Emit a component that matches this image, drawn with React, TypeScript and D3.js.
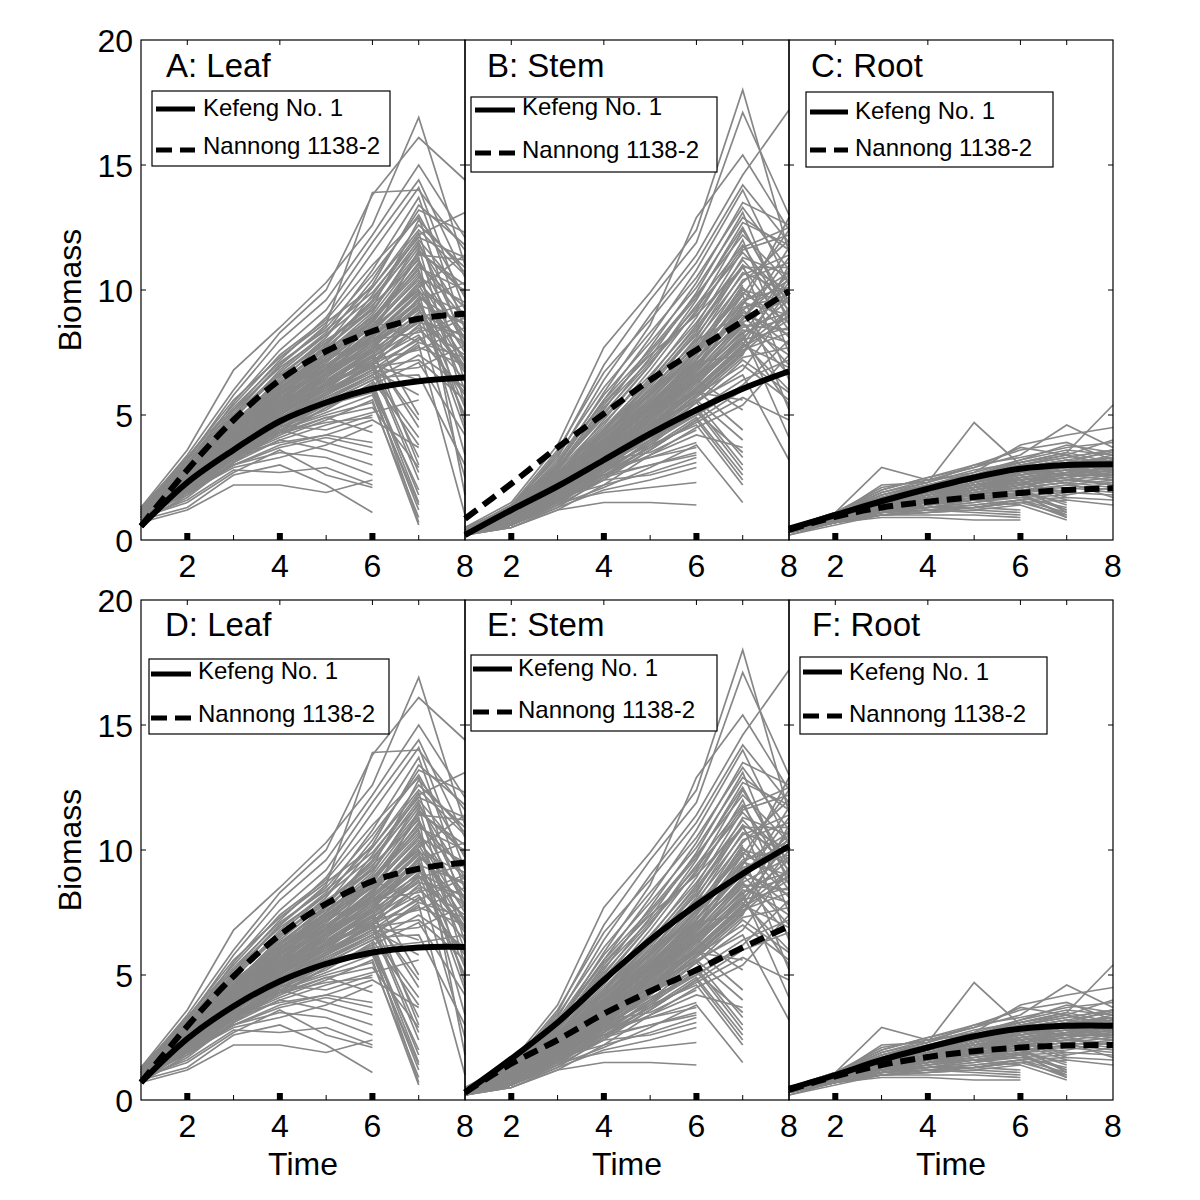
import React from "react";
import * as d3 from "d3";

// ---------- data ----------
const timePoints = [1, 2, 3, 4, 5, 6, 7, 8];
const yTickValues = [0, 5, 10, 15, 20];
const yInnerTicks = [5, 10, 15];
const xTickLabelValues = [2, 4, 6, 8];
const xTopTickValues = [2, 4, 6, 7];
const xBottomMinorTicks = [3, 5, 7];
const xBottomMajorMarks = [2, 4, 6];
const legendLabels = ["Kefeng No. 1", "Nannong 1138-2"];
const panelTitles = ["A: Leaf", "B: Stem", "C: Root", "D: Leaf", "E: Stem", "F: Root"];
const yAxisLabel = "Biomass";
const xAxisLabel = "Time";

// individual trajectories (grey), values at time 1..k
const leafLines: number[][] = [
  [0.8, 1.3, 2.6, 3.0, 2.2, 1.1],
  [0.9, 1.6, 2.8, 2.7, 2.9, 2.2],
  [0.7, 1.2, 2.2, 2.2, 1.9, 2.4],
  [1.0, 1.8, 3.0, 3.5, 3.3, 2.6],
  [0.9, 2.0, 3.2, 4.0, 3.6, 3.0],
  [1.1, 2.3, 3.4, 3.9, 4.2, 3.9],
  [0.8, 1.7, 3.1, 4.4, 3.9, 3.4],
  [1.0, 1.9, 2.9, 3.3, 3.8, 4.6],
  [0.9, 1.5, 2.7, 3.6, 2.6, 2.1],
  [1.2, 2.4, 3.6, 4.6, 4.4, 5.0],
  [1.0, 2.1, 3.3, 4.2, 4.9, 4.3],
  [0.9, 1.9, 3.0, 3.7, 4.1, 3.7],
  [1.1, 2.2, 3.5, 4.3, 4.7, 4.9],
  [0.9, 2.2, 3.3, 4.1, 4.8, 5.6, 0.6],
  [1.0, 2.5, 3.9, 4.9, 5.4, 5.9, 1.2],
  [0.8, 1.9, 3.2, 4.5, 5.2, 6.3, 1.8],
  [1.1, 2.6, 4.1, 5.2, 6.0, 6.9, 2.4],
  [0.9, 2.1, 3.5, 4.3, 4.9, 5.3, 2.9],
  [1.2, 2.8, 4.3, 5.6, 6.2, 7.1, 3.3],
  [0.8, 2.0, 3.0, 3.8, 4.2, 4.8, 3.7],
  [1.0, 2.3, 3.7, 4.7, 5.7, 6.6, 4.1],
  [0.9, 2.4, 3.8, 5.0, 6.3, 7.4, 4.5],
  [1.1, 2.7, 4.4, 5.8, 6.9, 8.2, 5.0],
  [0.7, 1.8, 3.1, 4.0, 4.6, 5.1, 5.6],
  [1.0, 2.2, 3.6, 4.9, 5.9, 7.0, 6.4],
  [1.2, 2.9, 4.6, 6.1, 7.4, 8.8, 7.9],
  [0.9, 2.5, 4.0, 5.4, 6.5, 8.0, 9.3],
  [1.0, 2.1, 3.4, 4.4, 5.0, 5.5, 0.9],
  [0.8, 2.3, 3.6, 4.8, 5.6, 6.0, 2.0],
  [1.1, 2.6, 4.2, 5.3, 6.1, 7.6, 3.0],
  [1.0, 2.0, 3.3, 4.2, 5.3, 6.2, 1.5],
  [0.9, 2.2, 3.6, 4.6, 5.5, 6.4, 3.8],
  [1.0, 2.4, 3.9, 5.1, 6.0, 7.0, 2.7],
  [1.1, 2.6, 4.0, 5.3, 6.4, 7.3, 4.8],
  [0.8, 2.0, 3.3, 4.4, 5.1, 5.8, 1.4],
  [1.0, 2.3, 3.7, 4.9, 5.8, 6.8, 5.8],
  [0.9, 2.1, 3.4, 4.5, 5.4, 6.1, 0.7],
  [1.3, 3.6, 6.8, 8.5, 10.3, 12.6, 16.9, 11.0],
  [1.2, 3.4, 6.0, 8.3, 10.0, 13.8, 16.1, 14.4],
  [1.1, 3.2, 5.8, 8.0, 9.6, 12.2, 15.0, 12.1],
  [1.0, 3.0, 5.5, 7.6, 9.2, 11.9, 14.4, 10.5],
  [1.2, 3.1, 5.2, 7.2, 8.9, 11.5, 14.1, 9.2],
  [0.9, 2.8, 5.0, 7.0, 8.6, 13.9, 14.0, 11.6],
  [1.1, 2.9, 4.8, 6.8, 8.3, 10.8, 13.7, 8.4],
  [1.0, 2.7, 4.6, 6.5, 8.1, 10.4, 13.2, 12.3],
  [1.3, 3.3, 5.4, 7.4, 8.8, 11.0, 12.9, 7.6],
  [1.0, 2.6, 4.4, 6.2, 7.8, 10.1, 12.6, 10.9],
  [0.9, 2.5, 4.3, 6.0, 7.5, 9.8, 12.3, 6.3],
  [1.1, 2.8, 4.7, 6.4, 7.9, 9.5, 12.0, 9.8],
  [1.2, 3.0, 4.9, 6.6, 8.0, 9.2, 11.7, 5.4],
  [1.0, 2.4, 4.1, 5.8, 7.3, 9.0, 11.4, 11.2],
  [0.8, 2.3, 4.0, 5.6, 7.1, 8.7, 11.1, 8.8],
  [1.1, 2.7, 4.5, 6.3, 7.6, 8.9, 10.8, 4.6],
  [1.0, 2.6, 4.2, 5.9, 7.4, 8.5, 10.5, 9.5],
  [0.9, 2.2, 3.9, 5.5, 6.9, 8.3, 10.2, 7.1],
  [1.2, 2.9, 4.8, 6.1, 7.2, 8.1, 9.9, 3.4],
  [1.0, 2.5, 4.0, 5.4, 6.7, 7.9, 9.6, 10.3],
  [0.8, 2.1, 3.7, 5.2, 6.5, 7.7, 9.4, 6.8],
  [1.1, 2.6, 4.3, 5.7, 6.8, 7.5, 9.1, 8.1],
  [1.0, 2.4, 3.8, 5.3, 6.4, 7.3, 8.8, 2.5],
  [0.9, 2.3, 3.6, 5.0, 6.2, 7.0, 8.6, 7.4],
  [1.2, 2.8, 4.5, 5.9, 7.0, 8.0, 8.3, 9.0],
  [1.0, 2.2, 3.5, 4.8, 5.9, 6.8, 8.1, 5.9],
  [0.9, 2.0, 3.4, 4.6, 5.7, 6.6, 7.8, 1.0],
  [1.1, 2.5, 3.9, 5.1, 6.1, 7.2, 7.6, 8.5],
  [1.0, 2.1, 3.3, 4.5, 5.5, 6.4, 7.4, 6.1],
  [0.8, 1.9, 3.1, 4.3, 5.3, 6.2, 7.1, 4.2],
  [1.1, 2.4, 3.7, 4.9, 5.8, 6.7, 6.9, 7.8],
  [1.0, 2.3, 3.6, 4.7, 5.6, 6.5, 6.6, 3.0],
  [0.9, 2.0, 3.2, 4.4, 5.4, 6.1, 6.3, 6.6],
  [1.2, 2.6, 4.0, 5.2, 6.3, 7.1, 9.0, 5.0],
  [1.0, 2.4, 3.9, 5.4, 6.8, 8.4, 10.0, 7.2],
  [0.9, 2.3, 3.8, 5.3, 6.6, 8.2, 11.6, 9.9],
  [1.1, 2.7, 4.4, 6.0, 7.7, 9.3, 12.8, 10.7],
  [1.0, 2.5, 4.2, 5.8, 7.2, 8.8, 11.3, 1.8],
  [1.3, 3.1, 5.0, 6.7, 8.2, 10.2, 13.4, 11.8],
  [0.9, 2.2, 3.6, 5.0, 6.3, 7.6, 9.7, 8.6],
  [1.0, 2.6, 4.3, 5.6, 6.9, 8.6, 10.6, 6.0],
  [1.1, 2.9, 4.6, 6.2, 7.8, 9.6, 12.2, 13.1],
  [1.2, 3.0, 5.1, 7.0, 8.5, 10.6, 13.0, 9.7],
  [0.8, 2.1, 3.5, 4.9, 6.0, 7.4, 8.9, 7.9],
  [1.0, 2.3, 3.7, 5.1, 6.2, 7.7, 9.3, 4.9],
  [1.1, 2.4, 3.8, 5.0, 6.0, 6.9, 7.2, 5.6],
  [0.9, 2.2, 3.4, 4.7, 5.8, 7.0, 8.0, 8.9],
  [1.0, 2.7, 4.5, 6.1, 7.5, 9.1, 11.9, 8.0],
  [1.0, 2.4, 4.0, 5.5, 6.9, 8.1, 9.8, 7.7],
  [0.9, 2.3, 3.8, 5.2, 6.5, 7.8, 9.0, 6.9],
  [1.1, 2.6, 4.2, 5.7, 7.0, 8.3, 10.3, 8.3],
  [1.0, 2.2, 3.6, 5.0, 6.1, 7.3, 8.5, 6.4],
  [1.2, 2.8, 4.6, 6.2, 7.5, 8.9, 11.0, 9.3],
  [0.9, 2.1, 3.5, 4.8, 5.9, 7.1, 8.4, 7.0],
  [1.0, 2.5, 4.1, 5.6, 6.8, 8.0, 9.5, 5.3],
  [1.1, 2.7, 4.4, 5.9, 7.3, 8.7, 10.9, 10.0],
  [0.8, 2.0, 3.3, 4.6, 5.6, 6.6, 7.9, 7.3],
  [1.0, 2.3, 3.7, 5.1, 6.3, 7.5, 8.7, 8.2],
  [1.1, 2.5, 4.0, 5.4, 6.7, 8.2, 9.9, 9.1],
  [0.9, 2.4, 3.9, 5.3, 6.6, 7.9, 9.2, 6.7],
  [1.0, 2.6, 4.3, 5.8, 7.1, 8.6, 10.4, 7.5],
  [1.2, 2.9, 4.7, 6.3, 7.7, 9.2, 11.5, 10.2],
  [0.9, 2.2, 3.7, 5.0, 6.2, 7.2, 8.2, 5.8],
  [1.0, 2.4, 3.9, 5.2, 6.4, 7.6, 8.9, 9.4],
  [1.1, 2.6, 4.1, 5.5, 6.6, 7.8, 9.4, 8.7],
  [1.0, 2.3, 3.8, 5.3, 6.7, 8.1, 9.6, 4.4],
  [0.9, 2.5, 4.2, 5.6, 6.9, 8.4, 10.1, 11.4],
  [1.1, 2.8, 4.5, 6.0, 7.4, 8.8, 10.7, 8.0],
  [1.0, 2.1, 3.4, 4.7, 5.8, 6.8, 7.7, 7.0],
  [1.2, 2.7, 4.3, 5.8, 7.2, 8.5, 10.0, 6.9],
  [1.2, 3.3, 5.6, 7.3, 8.7, 10.1, 12.4, 10.6],
  [1.1, 3.1, 5.2, 6.9, 8.2, 9.7, 11.8, 8.9],
  [1.2, 3.2, 5.3, 7.1, 8.4, 9.9, 12.1, 11.3],
  [1.1, 2.9, 4.9, 6.6, 7.9, 9.4, 11.2, 7.8],
];

const stemLines: number[][] = [
  [0.2, 0.5, 1.2, 1.5, 1.5, 1.4],
  [0.3, 0.7, 1.5, 1.9, 2.1, 2.3],
  [0.2, 0.6, 1.6, 2.4, 2.6, 3.1],
  [0.3, 0.8, 1.9, 2.6, 3.0, 3.5],
  [0.4, 0.9, 2.1, 2.9, 3.3, 3.9],
  [0.2, 0.7, 1.7, 2.2, 2.7, 3.3],
  [0.3, 1.0, 2.3, 3.2, 3.5, 4.4],
  [0.3, 0.6, 1.3, 2.0, 2.4, 2.9],
  [0.3, 0.8, 1.8, 2.8, 3.3, 3.7],
  [0.2, 0.7, 1.6, 2.5, 3.0, 3.4],
  [0.2, 0.6, 1.4, 2.1, 2.9, 3.8, 1.5],
  [0.3, 0.8, 1.8, 2.9, 3.8, 4.6, 2.2],
  [0.3, 0.9, 2.0, 3.2, 4.3, 5.2, 2.8],
  [0.4, 1.0, 2.2, 3.5, 4.7, 5.5, 3.3],
  [0.2, 0.7, 1.6, 2.6, 3.4, 4.2, 3.7],
  [0.3, 0.9, 2.1, 3.4, 4.9, 6.0, 4.4],
  [0.4, 1.1, 2.5, 3.9, 5.2, 6.4, 5.2],
  [0.3, 0.8, 1.9, 3.0, 4.1, 5.0, 6.1],
  [0.3, 1.0, 2.4, 3.8, 5.4, 7.1, 7.4],
  [0.4, 1.2, 2.7, 4.4, 6.0, 8.0, 9.0],
  [0.2, 0.6, 1.5, 2.5, 3.6, 4.8, 2.4],
  [0.3, 0.9, 2.2, 3.6, 5.0, 6.6, 8.3],
  [0.4, 1.1, 2.6, 4.2, 5.8, 7.5, 10.2],
  [0.3, 0.8, 1.7, 2.8, 3.9, 5.3, 3.0],
  [0.3, 0.8, 1.9, 3.1, 4.3, 5.6, 4.0],
  [0.2, 0.7, 1.6, 2.7, 3.7, 4.9, 2.6],
  [0.3, 0.9, 2.0, 3.3, 4.6, 5.9, 5.6],
  [0.3, 0.8, 1.8, 3.0, 4.0, 5.1, 3.5],
  [0.5, 1.5, 3.8, 7.7, 9.9, 12.4, 18.0, 11.5],
  [0.4, 1.3, 3.5, 7.0, 9.6, 11.9, 17.1, 13.0],
  [0.4, 1.4, 3.3, 6.4, 9.0, 11.4, 14.6, 17.2],
  [0.5, 1.2, 3.0, 5.9, 8.6, 12.9, 15.4, 12.4],
  [0.4, 1.3, 3.1, 5.6, 8.1, 10.8, 14.0, 10.2],
  [0.3, 1.1, 2.8, 5.2, 7.7, 10.3, 13.5, 12.6],
  [0.4, 1.2, 2.9, 5.0, 7.3, 9.9, 13.1, 8.6],
  [0.3, 1.0, 2.6, 4.8, 7.0, 9.6, 12.7, 11.8],
  [0.4, 1.1, 2.7, 4.6, 6.8, 9.2, 12.4, 9.4],
  [0.3, 0.9, 2.4, 4.4, 6.5, 8.9, 12.0, 7.5],
  [0.3, 1.0, 2.5, 4.3, 6.3, 8.6, 11.6, 12.2],
  [0.4, 1.1, 2.6, 4.2, 6.1, 8.3, 11.3, 10.6],
  [0.2, 0.8, 2.1, 3.9, 5.9, 8.1, 11.0, 6.4],
  [0.3, 0.9, 2.3, 4.1, 5.8, 7.9, 10.7, 9.9],
  [0.3, 1.0, 2.4, 4.0, 5.6, 7.6, 10.4, 11.1],
  [0.2, 0.7, 1.9, 3.6, 5.4, 7.4, 10.1, 8.1],
  [0.3, 0.9, 2.2, 3.8, 5.3, 7.2, 9.8, 5.2],
  [0.3, 0.8, 2.0, 3.5, 5.1, 7.0, 9.5, 9.0],
  [0.2, 0.8, 2.1, 3.7, 5.2, 6.9, 9.2, 10.4],
  [0.3, 0.9, 2.3, 3.9, 5.5, 7.3, 9.0, 7.0],
  [0.3, 0.8, 1.9, 3.4, 4.9, 6.7, 8.8, 11.7],
  [0.2, 0.7, 1.8, 3.3, 4.8, 6.5, 8.6, 8.4],
  [0.3, 0.9, 2.1, 3.6, 5.0, 6.6, 8.3, 4.1],
  [0.2, 0.7, 1.7, 3.1, 4.6, 6.2, 8.1, 9.6],
  [0.3, 0.8, 2.0, 3.4, 4.7, 6.3, 7.9, 6.0],
  [0.2, 0.6, 1.6, 3.0, 4.4, 6.0, 7.7, 8.8],
  [0.3, 0.8, 1.8, 3.2, 4.5, 5.9, 7.5, 10.0],
  [0.2, 0.6, 1.5, 2.8, 4.2, 5.7, 7.3, 7.7],
  [0.3, 0.7, 1.7, 2.9, 4.3, 5.8, 7.0, 5.6],
  [0.2, 0.6, 1.4, 2.7, 4.0, 5.5, 6.8, 9.3],
  [0.3, 0.8, 1.9, 3.3, 4.6, 5.6, 6.6, 3.2],
  [0.2, 0.5, 1.3, 2.5, 3.8, 5.2, 6.4, 7.2],
  [0.3, 0.7, 1.6, 2.7, 3.9, 5.0, 6.2, 8.0],
  [0.2, 0.6, 1.4, 2.4, 3.6, 4.8, 6.0, 6.7],
  [0.3, 0.7, 1.5, 2.6, 3.7, 4.7, 5.7, 4.8],
  [0.2, 0.5, 1.2, 2.2, 3.4, 4.5, 5.4, 7.4],
  [0.3, 0.8, 2.0, 3.5, 5.0, 6.8, 9.4, 12.9],
  [0.4, 1.0, 2.5, 4.3, 6.2, 8.4, 10.9, 10.9],
  [0.3, 0.9, 2.2, 3.8, 5.4, 7.1, 8.7, 9.7],
  [0.2, 0.7, 1.8, 3.2, 4.6, 6.1, 7.8, 6.9],
  [0.4, 1.2, 2.9, 4.9, 7.0, 9.4, 11.8, 8.9],
  [0.3, 1.0, 2.4, 4.2, 6.0, 8.0, 10.3, 12.0],
  [0.3, 0.8, 2.0, 3.4, 4.8, 6.4, 8.2, 10.8],
  [0.2, 0.6, 1.6, 2.9, 4.2, 5.5, 7.2, 5.9],
  [0.3, 0.9, 2.1, 3.7, 5.3, 7.0, 9.1, 8.2],
  [0.4, 1.1, 2.8, 4.7, 6.6, 8.7, 11.2, 9.2],
  [0.2, 0.7, 1.7, 3.0, 4.4, 5.8, 7.4, 11.0],
  [0.3, 0.9, 2.3, 3.9, 5.6, 7.5, 9.6, 10.1],
  [0.3, 0.9, 2.2, 3.8, 5.4, 7.2, 9.3, 9.8],
  [0.3, 0.8, 2.0, 3.5, 5.0, 6.7, 8.5, 9.1],
  [0.2, 0.7, 1.8, 3.3, 4.8, 6.4, 8.0, 8.5],
  [0.3, 0.9, 2.1, 3.6, 5.2, 6.9, 8.9, 10.6],
  [0.3, 1.0, 2.4, 4.0, 5.7, 7.6, 9.9, 8.7],
  [0.2, 0.8, 1.9, 3.4, 4.9, 6.5, 8.4, 7.9],
  [0.3, 0.9, 2.2, 3.7, 5.3, 7.0, 8.8, 11.3],
  [0.4, 1.0, 2.5, 4.2, 5.9, 7.8, 10.0, 9.5],
  [0.2, 0.7, 1.8, 3.2, 4.6, 6.0, 7.6, 8.3],
  [0.3, 0.8, 2.0, 3.5, 5.1, 6.8, 8.6, 7.4],
  [0.3, 0.9, 2.3, 3.9, 5.6, 7.4, 9.5, 10.7],
  [0.2, 0.7, 1.7, 3.1, 4.5, 6.0, 7.7, 9.2],
  [0.3, 1.0, 2.3, 3.9, 5.5, 7.2, 9.2, 7.8],
  [0.4, 1.1, 2.6, 4.4, 6.3, 8.2, 10.6, 11.4],
  [0.2, 0.8, 2.0, 3.5, 5.1, 6.6, 8.3, 8.9],
  [0.3, 0.8, 1.9, 3.3, 4.7, 6.3, 8.0, 10.3],
  [0.3, 0.9, 2.2, 3.7, 5.2, 6.8, 8.7, 6.6],
  [0.2, 0.6, 1.6, 2.9, 4.3, 5.8, 7.5, 9.0],
  [0.3, 1.0, 2.4, 4.1, 5.8, 7.7, 9.8, 12.4],
  [0.3, 0.8, 2.0, 3.4, 4.9, 6.5, 8.1, 5.4],
  [0.2, 0.7, 1.8, 3.1, 4.5, 6.1, 7.8, 10.5],
  [0.4, 1.1, 2.7, 4.5, 6.4, 8.5, 11.0, 10.0],
  [0.4, 1.2, 3.0, 5.6, 7.6, 9.8, 12.2, 10.3],
  [0.4, 1.3, 3.2, 5.8, 7.9, 10.1, 12.9, 11.6],
  [0.4, 1.1, 2.9, 5.3, 7.2, 9.3, 11.5, 9.6],
  [0.5, 1.3, 3.4, 6.1, 8.3, 10.5, 13.3, 10.8],
  [0.4, 1.2, 3.1, 5.5, 7.4, 9.0, 10.9, 8.4],
  [0.3, 1.1, 2.8, 5.1, 7.1, 9.1, 11.7, 12.5],
  [0.4, 1.2, 2.9, 5.4, 7.5, 9.7, 12.5, 9.1],
  [0.4, 1.4, 3.6, 6.7, 8.8, 11.1, 14.2, 11.9],
];

const rootLines: number[][] = [
  [0.3, 0.7, 0.9, 0.9, 0.8, 0.8],
  [0.3, 0.8, 1.0, 1.0, 1.0, 0.9],
  [0.4, 0.8, 1.1, 1.2, 1.1, 1.0],
  [0.3, 0.7, 1.0, 1.1, 1.2, 1.1],
  [0.3, 0.8, 1.2, 1.3, 1.3, 1.2],
  [0.4, 0.9, 1.3, 1.5, 1.6, 1.4],
  [0.3, 0.7, 1.1, 1.2, 1.3, 1.5],
  [0.4, 0.9, 1.4, 1.7, 1.9, 1.8],
  [0.3, 0.7, 1.0, 1.1, 1.2, 1.4, 0.8],
  [0.4, 0.8, 1.2, 1.3, 1.4, 1.6, 0.9],
  [0.3, 0.8, 1.1, 1.2, 1.3, 1.5, 1.0],
  [0.3, 0.7, 1.0, 1.1, 1.3, 1.6, 1.1],
  [0.4, 0.9, 1.3, 1.5, 1.6, 1.8, 1.2],
  [0.3, 0.8, 1.2, 1.4, 1.6, 1.7, 1.3],
  [0.4, 0.9, 1.4, 1.6, 1.8, 2.0, 1.4],
  [0.3, 0.8, 1.3, 1.6, 1.9, 2.2, 1.6],
  [0.4, 1.0, 1.5, 1.9, 2.2, 2.4, 1.8],
  [0.3, 0.9, 1.4, 1.8, 2.1, 2.5, 2.3],
  [0.4, 1.0, 1.6, 2.0, 2.4, 2.8, 2.6],
  [0.3, 0.8, 1.2, 1.5, 1.7, 1.9, 1.5],
  [0.4, 0.9, 1.3, 1.7, 2.0, 2.3, 1.9],
  [0.3, 0.7, 1.1, 1.3, 1.5, 1.8, 1.0],
  [0.3, 0.8, 1.2, 1.5, 1.8, 2.0, 1.2],
  [0.4, 0.9, 1.4, 1.7, 2.0, 2.3, 1.7],
  [0.3, 0.8, 1.3, 1.6, 1.9, 2.1, 1.1],
  [0.3, 0.7, 1.1, 1.4, 1.6, 1.9, 0.9],
  [0.5, 1.1, 2.9, 2.4, 2.6, 3.1, 3.5, 5.4],
  [0.4, 1.0, 2.2, 2.3, 4.7, 3.0, 3.3, 3.6],
  [0.4, 1.1, 2.0, 2.5, 2.9, 3.4, 4.6, 3.7],
  [0.5, 1.1, 2.1, 2.4, 2.7, 3.8, 4.2, 4.5],
  [0.4, 1.0, 1.9, 2.3, 3.0, 3.6, 3.9, 3.2],
  [0.4, 1.0, 1.8, 2.2, 2.6, 3.2, 3.6, 3.4],
  [0.5, 1.1, 2.0, 2.5, 3.0, 3.3, 3.7, 3.9],
  [0.4, 1.0, 1.8, 2.3, 2.8, 3.1, 3.4, 3.0],
  [0.4, 0.9, 1.7, 2.1, 2.5, 2.9, 3.2, 3.5],
  [0.3, 0.9, 1.6, 2.0, 2.4, 2.8, 3.1, 2.8],
  [0.4, 1.0, 1.7, 2.2, 2.6, 3.0, 3.0, 3.3],
  [0.3, 0.9, 1.5, 1.9, 2.3, 2.7, 2.9, 3.1],
  [0.4, 0.9, 1.6, 2.0, 2.4, 2.6, 2.8, 2.6],
  [0.3, 0.8, 1.4, 1.8, 2.2, 2.5, 2.7, 2.9],
  [0.3, 0.9, 1.5, 1.9, 2.2, 2.4, 2.6, 2.4],
  [0.4, 0.9, 1.4, 1.8, 2.1, 2.3, 2.5, 2.7],
  [0.3, 0.8, 1.3, 1.7, 2.0, 2.2, 2.4, 2.2],
  [0.3, 0.8, 1.3, 1.6, 1.9, 2.1, 2.3, 2.5],
  [0.3, 0.8, 1.2, 1.5, 1.8, 2.0, 2.2, 2.0],
  [0.3, 0.7, 1.2, 1.5, 1.7, 1.9, 2.0, 2.3],
  [0.3, 0.7, 1.1, 1.4, 1.6, 1.8, 1.9, 1.8],
  [0.2, 0.7, 1.1, 1.3, 1.5, 1.7, 1.8, 2.1],
  [0.3, 0.7, 1.0, 1.2, 1.4, 1.6, 1.7, 1.6],
  [0.2, 0.6, 1.0, 1.2, 1.3, 1.5, 1.6, 1.4],
  [0.3, 0.8, 1.3, 1.7, 2.1, 2.5, 2.8, 3.0],
  [0.4, 0.9, 1.5, 2.0, 2.5, 2.9, 3.2, 2.7],
  [0.3, 0.9, 1.4, 1.8, 2.3, 2.6, 3.0, 3.2],
  [0.4, 1.0, 1.6, 2.1, 2.5, 3.0, 3.4, 2.9],
  [0.3, 0.8, 1.3, 1.6, 2.0, 2.4, 2.6, 2.4],
  [0.3, 0.8, 1.2, 1.4, 1.7, 2.0, 2.1, 1.9],
  [0.4, 0.9, 1.5, 1.9, 2.3, 2.7, 3.0, 3.4],
  [0.3, 0.8, 1.4, 1.7, 2.1, 2.4, 2.7, 2.5],
  [0.4, 1.0, 1.7, 2.1, 2.6, 3.1, 3.5, 3.1],
  [0.3, 0.7, 1.2, 1.5, 1.9, 2.2, 2.4, 2.6],
  [0.4, 0.9, 1.6, 2.0, 2.4, 2.8, 3.1, 3.6],
  [0.3, 0.8, 1.3, 1.6, 1.8, 2.1, 2.3, 1.7],
  [0.4, 1.0, 1.8, 2.2, 2.7, 3.2, 3.8, 3.5],
  [0.3, 0.9, 1.4, 1.7, 2.0, 2.3, 2.5, 2.8],
  [0.5, 1.1, 1.9, 2.4, 2.9, 3.7, 3.4, 4.0],
  [0.3, 0.7, 1.1, 1.3, 1.6, 1.9, 2.2, 2.4],
  [0.4, 0.9, 1.5, 1.8, 2.2, 2.6, 2.9, 2.6],
  [0.3, 0.8, 1.3, 1.6, 2.0, 2.3, 2.6, 3.0],
  [0.3, 0.8, 1.3, 1.7, 2.1, 2.4, 2.6, 2.8],
  [0.4, 0.9, 1.4, 1.8, 2.2, 2.6, 2.8, 3.0],
  [0.3, 0.8, 1.3, 1.7, 2.0, 2.3, 2.5, 2.7],
  [0.4, 0.9, 1.5, 1.9, 2.3, 2.7, 2.9, 3.1],
  [0.3, 0.8, 1.2, 1.6, 1.9, 2.2, 2.4, 2.3],
  [0.4, 1.0, 1.6, 2.0, 2.4, 2.8, 3.1, 3.3],
  [0.3, 0.8, 1.3, 1.7, 2.1, 2.5, 2.7, 2.5],
  [0.3, 0.9, 1.4, 1.9, 2.3, 2.6, 2.8, 3.2],
  [0.4, 0.9, 1.5, 1.9, 2.2, 2.5, 2.7, 2.9],
  [0.3, 0.8, 1.2, 1.5, 1.8, 2.1, 2.3, 2.1],
  [0.4, 1.0, 1.7, 2.2, 2.6, 3.0, 3.3, 3.6],
  [0.3, 0.8, 1.4, 1.8, 2.2, 2.6, 2.9, 2.7],
  [0.3, 0.9, 1.5, 1.9, 2.4, 2.8, 3.0, 2.9],
  [0.4, 0.9, 1.4, 1.8, 2.1, 2.4, 2.6, 2.6],
  [0.3, 0.7, 1.2, 1.6, 1.9, 2.2, 2.5, 2.2],
  [0.4, 1.0, 1.6, 2.1, 2.5, 2.9, 3.2, 3.0],
  [0.3, 0.8, 1.3, 1.7, 2.0, 2.3, 2.6, 2.9],
  [0.3, 0.9, 1.5, 2.0, 2.4, 2.7, 2.9, 3.3],
  [0.4, 1.0, 1.5, 1.9, 2.3, 2.7, 3.0, 2.8],
  [0.3, 0.8, 1.4, 1.8, 2.1, 2.4, 2.7, 3.1],
];

// fitted mean curves at time 1..8
const fitLeafA_Kefeng = [0.55, 2.3, 3.6, 4.75, 5.5, 6.05, 6.35, 6.5];
const fitLeafA_Nannong = [0.55, 2.8, 4.8, 6.4, 7.55, 8.35, 8.85, 9.05];
const fitStemB_Kefeng = [0.2, 1.2, 2.15, 3.2, 4.25, 5.2, 6.05, 6.75];
const fitStemB_Nannong = [0.85, 2.25, 3.7, 5.05, 6.4, 7.6, 8.75, 9.95];
const fitRootC_Kefeng = [0.45, 1.0, 1.55, 2.05, 2.5, 2.85, 3.0, 3.03];
const fitRootC_Nannong = [0.4, 0.93, 1.3, 1.53, 1.72, 1.88, 2.0, 2.07];
const fitLeafD_Kefeng = [0.7, 2.45, 3.75, 4.75, 5.45, 5.9, 6.1, 6.12];
const fitLeafD_Nannong = [0.7, 2.95, 4.95, 6.6, 7.85, 8.75, 9.25, 9.5];
const fitStemE_Kefeng = [0.3, 1.65, 3.1, 4.8, 6.4, 7.8, 9.05, 10.15];
const fitStemE_Nannong = [0.3, 1.45, 2.4, 3.45, 4.35, 5.2, 6.1, 6.95];
const fitRootF_Kefeng = [0.45, 1.0, 1.6, 2.1, 2.55, 2.85, 2.97, 2.97];
const fitRootF_Nannong = [0.4, 0.95, 1.4, 1.72, 1.95, 2.1, 2.18, 2.2];

// ---------- layout ----------
const FONT = "'Liberation Sans', Arial, Helvetica, sans-serif";
const colX = [141, 465, 789];
const panelW = 324;
const rowTop = [40, 600];
const panelH = 500;
const GREY = "#878787";

const legendLayout = [
  { x: 152, y: 91, w: 238, h: 75, sx0: 156, sx1: 195, s1: 109, s2: 150, tx: 203, b1: 116, b2: 154 },
  { x: 471, y: 97, w: 246, h: 75, sx0: 475, sx1: 515, s1: 110, s2: 153, tx: 522, b1: 115, b2: 158 },
  { x: 806, y: 92, w: 247, h: 75, sx0: 810, sx1: 848, s1: 112, s2: 150, tx: 855, b1: 119, b2: 156 },
  { x: 149, y: 659, w: 240, h: 75, sx0: 151, sx1: 191, s1: 674, s2: 718, tx: 198, b1: 679, b2: 722 },
  { x: 471, y: 655, w: 246, h: 76, sx0: 473, sx1: 512, s1: 669, s2: 712, tx: 518, b1: 676, b2: 718 },
  { x: 800, y: 657, w: 247, h: 77, sx0: 803, sx1: 842, s1: 672, s2: 716, tx: 849, b1: 680, b2: 722 },
];
const titlePos = [
  { x: 166, y: 77 },
  { x: 487, y: 77 },
  { x: 811, y: 77 },
  { x: 165, y: 636 },
  { x: 487, y: 636 },
  { x: 812, y: 636 },
];

const panels = [
  { lines: leafLines, k: fitLeafA_Kefeng, n: fitLeafA_Nannong },
  { lines: stemLines, k: fitStemB_Kefeng, n: fitStemB_Nannong },
  { lines: rootLines, k: fitRootC_Kefeng, n: fitRootC_Nannong },
  { lines: leafLines, k: fitLeafD_Kefeng, n: fitLeafD_Nannong },
  { lines: stemLines, k: fitStemE_Kefeng, n: fitStemE_Nannong },
  { lines: rootLines, k: fitRootF_Kefeng, n: fitRootF_Nannong },
];

export default function App() {
  const scales = panels.map((_, i) => {
    const col = i % 3;
    const row = Math.floor(i / 3);
    const x = d3.scaleLinear().domain([1, 8]).range([colX[col], colX[col] + panelW]);
    const y = d3.scaleLinear().domain([0, 20]).range([rowTop[row] + panelH, rowTop[row]]);
    return { x, y, col, row };
  });

  const greyPaths = panels.map((p, i) => {
    const { x, y } = scales[i];
    const line = d3
      .line<number>()
      .x((_, j) => x(timePoints[j]))
      .y((v) => y(v));
    return p.lines.map((l) => line(l) || "");
  });

  const fitPaths = panels.map((p, i) => {
    const { x, y } = scales[i];
    const line = d3
      .line<number>()
      .x((_, j) => x(timePoints[j]))
      .y((v) => y(v))
      .curve(d3.curveCatmullRom.alpha(0.5));
    return { k: line(p.k) || "", n: line(p.n) || "" };
  });

  return (
    <svg
      width={1200}
      height={1200}
      style={{ position: "absolute", left: 0, top: 0, display: "block" }}
      fontFamily={FONT}
    >
      <rect x={0} y={0} width={1200} height={1200} fill="#fff" />
      {/* grey trajectories */}
      {greyPaths.map((paths, i) => (
        <g key={"g" + i} fill="none" stroke={GREY} strokeWidth={1.7} strokeLinejoin="miter">
          {paths.map((d, j) => (
            <path key={j} d={d} />
          ))}
        </g>
      ))}
      {/* fitted curves */}
      {fitPaths.map((f, i) => (
        <g key={"f" + i} fill="none" stroke="#000" strokeWidth={6}>
          <path d={f.k} />
          <path d={f.n} strokeDasharray="15,8" />
        </g>
      ))}
      {/* axes */}
      {scales.map(({ x, y, col, row }, i) => {
        const x0 = x(1), x1 = x(8), y0 = y(0), y1 = y(20);
        return (
          <g key={"a" + i}>
            <rect x={x0} y={y1} width={x1 - x0} height={y0 - y1} fill="none" stroke="#000" strokeWidth={1.2} />
            {yInnerTicks.map((t) => (
              <g key={t}>
                <line x1={x0} x2={x0 + 5} y1={y(t)} y2={y(t)} stroke="#000" strokeWidth={1} />
                <line x1={x1} x2={x1 - 5} y1={y(t)} y2={y(t)} stroke="#000" strokeWidth={1} />
              </g>
            ))}
            {xTopTickValues.map((t) => (
              <line key={"t" + t} x1={x(t)} x2={x(t)} y1={y1} y2={y1 + 5} stroke="#000" strokeWidth={1} />
            ))}
            {xBottomMinorTicks.map((t) => (
              <line key={"b" + t} x1={x(t)} x2={x(t)} y1={y0} y2={y0 - 5} stroke="#000" strokeWidth={1} />
            ))}
            {xBottomMajorMarks.map((t) => (
              <rect key={"m" + t} x={x(t) - 3} y={y0 - 7} width={6} height={7} fill="#000" />
            ))}
            {xTickLabelValues.map((t) => (
              <text key={"xl" + t} x={x(t)} y={y0 + 37} fontSize={32} textAnchor="middle" fill="#000">
                {t}
              </text>
            ))}
            {col === 0 &&
              yTickValues.map((t) => (
                <text key={"yl" + t} x={x0 - 8} y={y(t) + 11.5} fontSize={32} textAnchor="end" fill="#000">
                  {t}
                </text>
              ))}
            {col === 0 && (
              <text
                transform={`translate(81,${(y0 + y1) / 2}) rotate(-90)`}
                fontSize={32}
                textAnchor="middle"
                fill="#000"
              >
                {yAxisLabel}
              </text>
            )}
            {row === 1 && (
              <text x={(x0 + x1) / 2} y={1175} fontSize={32} textAnchor="middle" fill="#000">
                {xAxisLabel}
              </text>
            )}
            <text x={titlePos[i].x} y={titlePos[i].y} fontSize={33} fill="#000">
              {panelTitles[i]}
            </text>
          </g>
        );
      })}
      {/* legends */}
      {legendLayout.map((L, i) => (
        <g key={"l" + i}>
          <rect x={L.x} y={L.y} width={L.w} height={L.h} fill="#fff" stroke="#000" strokeWidth={1.2} />
          <line x1={L.sx0} x2={L.sx1} y1={L.s1} y2={L.s1} stroke="#000" strokeWidth={5} />
          <line x1={L.sx0} x2={L.sx1} y1={L.s2} y2={L.s2} stroke="#000" strokeWidth={5} strokeDasharray="16,8" />
          <text x={L.tx} y={L.b1} fontSize={24} fill="#000">
            {legendLabels[0]}
          </text>
          <text x={L.tx} y={L.b2} fontSize={24} fill="#000">
            {legendLabels[1]}
          </text>
        </g>
      ))}
    </svg>
  );
}
